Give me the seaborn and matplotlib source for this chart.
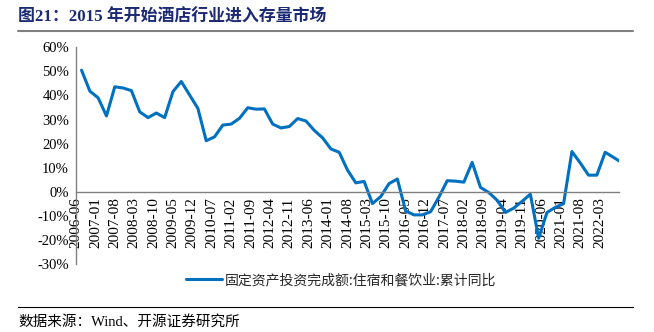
import matplotlib
matplotlib.use("Agg")
import matplotlib.pyplot as plt
from matplotlib.lines import Line2D
import seaborn as sns
import pandas as pd
import numpy as np

# ---- data ----
start_period = "2006-06"
n_points = 66  # quarterly observations, 2006-06 ... 2022-09
values = [50.5, 41.8, 39.0, 31.5, 43.6, 43.1, 42.0, 33.2, 30.8, 32.7,
          30.8, 41.6, 45.8, 40.2, 34.6, 21.2, 22.8, 27.7, 28.1, 30.5,
          34.9, 34.3, 34.4, 28.1, 26.5, 27.1, 30.4, 29.4, 25.5, 22.4,
          17.8, 16.4, 9.0, 3.7, 4.3, -4.9, -2.0, 3.4, 5.3, -8.0,
          -9.6, -9.6, -8.3, -2.2, 4.6, 4.4, 4.0, 12.2, 1.8, -0.3,
          -3.5, -8.6, -6.8, -4.0, -1.0, -19.3, -8.6, -6.5, -4.9, 16.7,
          12.0, 6.9, 6.9, 16.4, 14.3, 12.1]
tick_labels = ["2006-06", "2007-01", "2007-08", "2008-03", "2008-10", "2009-05",
               "2009-12", "2010-07", "2011-02", "2011-09", "2012-04", "2012-11",
               "2013-06", "2014-01", "2014-08", "2015-03", "2015-10", "2016-05",
               "2016-12", "2017-07", "2018-02", "2018-09", "2019-04", "2019-11",
               "2020-06", "2021-01", "2021-08", "2022-03", ""]
y_ticks = [-30, -20, -10, 0, 10, 20, 30, 40, 50, 60]
series_name = "固定资产投资完成额:住宿和餐饮业:累计同比"
title = "图21：2015 年开始酒店行业进入存量市场"
source = "数据来源：Wind、开源证券研究所"

periods = pd.period_range(start_period, periods=n_points, freq="3M")
p0 = pd.Period(start_period, freq="M")
months = [(p.asfreq("M") - p0).n for p in periods]
df = pd.DataFrame({"month": months, "value": values, "series": series_name})

tick_pos = [pd.Period(t, freq="M") for t in tick_labels[:-1]]
tick_pos = [(p - p0).n for p in tick_pos]
tick_pos.append(tick_pos[-1] + 7)

# ---- style ----
sns.set_theme(style="white")
plt.rcParams["font.family"] = ["Liberation Serif", "Noto Sans CJK SC", "DejaVu Sans"]

W, H = 654, 332
fig = plt.figure(figsize=(W / 100, H / 100), dpi=100)
ax = fig.add_axes([76 / W, 1 - 264 / H, (619 - 76) / W, (264 - 47.3) / H])

sns.lineplot(data=df, x="month", y="value", hue="series", palette=["#0070C0"],
             linewidth=2.2, ax=ax, legend=False)

ax.set_xlim(0, tick_pos[-1])
ax.set_ylim(-30, 60)
ax.set_xlabel("")
ax.set_ylabel("")

for s in ["top", "right"]:
    ax.spines[s].set_visible(False)
ax.spines["bottom"].set_position(("data", 0))
for s in ["left", "bottom"]:
    ax.spines[s].set_color("#808080")
    ax.spines[s].set_linewidth(1.0)

ax.set_xticks(tick_pos)
ax.set_xticklabels(tick_labels, rotation=90, fontsize=11,
                   family=["Liberation Serif"])
ax.set_yticks(y_ticks)
ax.set_yticklabels([f"{v}%" for v in y_ticks], fontsize=10.5,
                   family=["Liberation Serif"])
ax.tick_params(axis="x", direction="in", length=4, width=1, color="#808080",
               pad=4)
ax.tick_params(axis="y", direction="in", length=4, width=1, color="#808080",
               pad=5)
for lab in ax.get_xticklabels() + ax.get_yticklabels():
    lab.set_color("#000000")

# legend
handle = Line2D([0], [0], color="#0070C0", linewidth=2.2)
fig.legend([handle], [series_name], loc="center", bbox_to_anchor=(341 / W, 1 - 280 / H),
           frameon=False, handlelength=2.6, handletextpad=0.25,
           prop={"family": ["Noto Sans CJK SC"], "size": 10})

# title and decorations
fig.text(18 / W, 1 - 17 / H, title, fontsize=12.2, fontweight="bold",
         color="#1c2a73", va="center", ha="left",
         family=["Liberation Serif", "Noto Sans CJK SC"])
fig.add_artist(Line2D([18 / W, 633 / W], [1 - 30.5 / H, 1 - 30.5 / H],
                      color="#808080", linewidth=1.5))
fig.add_artist(Line2D([18 / W, 633 / W], [1 - 307 / H, 1 - 307 / H],
                      color="#000000", linewidth=0.8))
fig.text(18 / W, 1 - 322 / H, source, fontsize=10.5, color="#000000",
         va="center", ha="left", family=["Liberation Serif", "Noto Sans CJK SC"])

fig.savefig("out.png", dpi=100)
